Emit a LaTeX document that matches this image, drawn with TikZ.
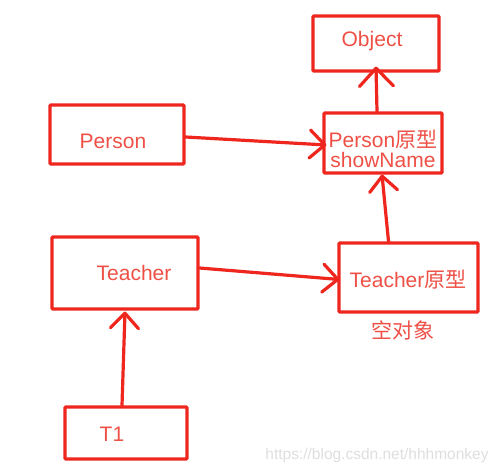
\documentclass[tikz,border=0pt]{standalone}
\usepackage{fontspec}
\setmainfont{Liberation Sans}
\newfontfamily\cjk{Noto Sans CJK SC}
\usetikzlibrary{arrows.meta}
\definecolor{boxred}{RGB}{238,38,30}
\definecolor{txtred}{RGB}{238,80,70}
\definecolor{wmgrey}{RGB}{222,222,222}
\tikzset{
  box/.style={draw=boxred, line width=3.2pt, rounded corners=1pt, inner sep=0pt},
  lbl/.style={text=txtred, font=\fontsize{21}{22}\selectfont, inner sep=0pt},
  conn/.style={draw=boxred, line width=3.2pt, line cap=round,
    -{Straight Barb[length=15pt,width=28pt,line width=3.2pt,round]}},
  bigconn/.style={conn, -{Straight Barb[length=18pt,width=34pt,line width=3.2pt,round]}},
}
\begin{document}
\begin{tikzpicture}[x=1pt,y=-1pt]
\useasboundingbox (0,0) rectangle (500,473);
% boxes
\node[box, minimum width=126pt, minimum height=55pt] (obj) at (376,43.5) {};
\node[box, minimum width=118pt, minimum height=60pt] (pp) at (383,143) {};
\node[box, minimum width=134pt, minimum height=59pt] (person) at (117,134.5) {};
\node[box, minimum width=146pt, minimum height=72pt] (teacher) at (125,273) {};
\node[box, minimum width=139pt, minimum height=69pt] (tp) at (408.5,277.5) {};
\node[box, minimum width=122pt, minimum height=52pt] (t1) at (126,433) {};
% texts
\node[lbl] (objT) at (372,41) {Object};
\node[lbl] (ppT1) at (383,140) {Person{\cjk 原型}};
\node[lbl] (ppT2) at (383,160) {showName};
\node[lbl] (personT) at (113,141) {Person};
\node[lbl] (teacherT) at (134,273) {Teacher};
\node[lbl] (tpT) at (408,280) {Teacher{\cjk 原型}};
\node[lbl] (emptyT) at (403,330) {\cjk 空对象};
\node[lbl] (t1T) at (112,434) {T1};
\node[text=wmgrey, font=\fontsize{15.5}{16}\selectfont, inner sep=0pt] (wm) at (377,455) {https://blog.csdn.net/hhhmonkey};
% connectors
\draw[bigconn] ([xshift=-6pt]pp.north) -- ([yshift=6pt]obj.south);
\draw[conn] ([yshift=-2.5pt]person.east) -- ([xshift=4pt,yshift=-2pt]pp.west);
\draw[conn] ([yshift=5pt]teacher.east) -- ([xshift=2pt,yshift=-2pt]tp.west);
\draw[conn] ([xshift=-20pt]tp.north) -- ([xshift=-1pt]pp.south);
\draw[conn] ([xshift=-4pt]t1.north) -- ([yshift=-1pt]teacher.south);
\end{tikzpicture}
\end{document}
